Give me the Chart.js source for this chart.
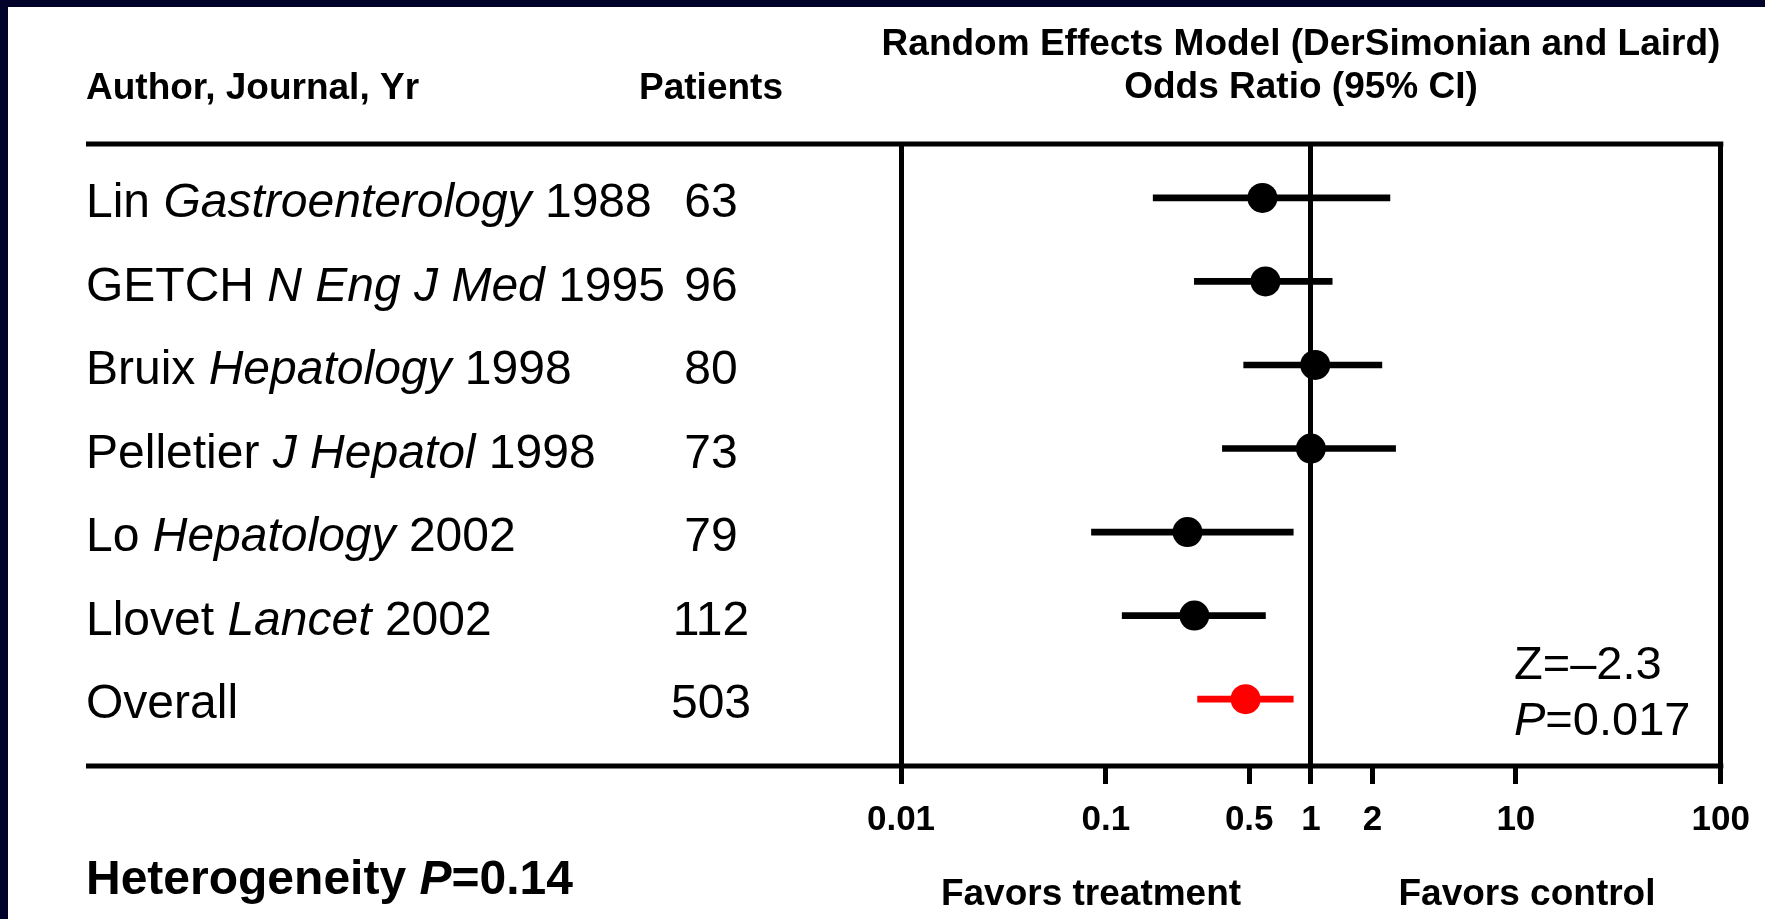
<!DOCTYPE html>
<html>
<head>
<meta charset="utf-8">
<script src="https://cdn.jsdelivr.net/npm/chart.js@4.4.1/dist/chart.umd.min.js"></script>
<style>
  html, body { margin: 0; padding: 0; background: #02032a; overflow: hidden; }
  canvas { display: block; }
</style>
</head>
<body>
<canvas id="forest" width="1765" height="919"></canvas>
<script>
// study label parts: [plain, italic, plain]
var studies = [
    ['Lin ', 'Gastroenterology', ' 1988'],
    ['GETCH ', 'N Eng J Med', ' 1995'],
    ['Bruix ', 'Hepatology', ' 1998'],
    ['Pelletier ', 'J Hepatol', ' 1998'],
    ['Lo ', 'Hepatology', ' 2002'],
    ['Llovet ', 'Lancet', ' 2002'],
    ['Overall', '', '']
];
var patients = ['63', '96', '80', '73', '79', '112', '503'];
var oddsRatio = [0.58, 0.60, 1.05, 1.00, 0.25, 0.27, 0.48];
var ciLow = [0.17, 0.27, 0.47, 0.37, 0.085, 0.12, 0.28];
var ciHigh = [2.43, 1.27, 2.22, 2.59, 0.82, 0.60, 0.82];
var tickValues = [0.01, 0.1, 0.5, 1, 2, 10, 100];
var tickLabels = ['0.01', '0.1', '0.5', '1', '2', '10', '100'];
var boxLines = [0.01, 1, 100];

var FONT = '"Liberation Sans", Arial, Helvetica, sans-serif';
var rowColor = function (i) { return i === studies.length - 1 ? '#ff0000' : '#000000'; };

// draws text runs, odd runs italic
function drawRuns(ctx, runs, x, y, size, weight) {
    ctx.textAlign = 'left';
    ctx.textBaseline = 'middle';
    runs.forEach(function (t, k) {
        if (!t) return;
        ctx.font = (k % 2 ? 'italic ' : '') + weight + ' ' + size + 'px ' + FONT;
        ctx.fillText(t, x, y);
        x += ctx.measureText(t).width;
    });
}

var forestDecor = {
    id: 'forestDecor',
    beforeDraw: function (chart) {
        var ctx = chart.ctx;
        ctx.save();
        ctx.fillStyle = '#02032a';
        ctx.fillRect(0, 0, chart.width, chart.height);
        ctx.fillStyle = '#ffffff';
        ctx.fillRect(8, 7, chart.width - 8, chart.height - 7);
        ctx.restore();
    },
    afterDraw: function (chart) {
        var ctx = chart.ctx;
        var area = chart.chartArea;
        var yScale = chart.scales.y;
        ctx.save();
        ctx.fillStyle = '#000';

        // header
        drawRuns(ctx, ['Author, Journal, Yr'], 86, 89, 37, 'bold');
        ctx.font = 'bold 37px ' + FONT;
        ctx.textAlign = 'center';
        ctx.fillText('Patients', 711, 89);
        ctx.fillText('Random Effects Model (DerSimonian and Laird)', 1301, 45);
        ctx.fillText('Odds Ratio (95% CI)', 1301, 88);

        // rules
        ctx.strokeStyle = '#000';
        ctx.lineWidth = 5;
        ctx.beginPath();
        ctx.moveTo(86, area.top);
        ctx.lineTo(area.right + 2.5, area.top);
        ctx.moveTo(86, area.bottom);
        ctx.lineTo(area.right + 2.5, area.bottom);
        ctx.stroke();

        // rows
        studies.forEach(function (s, i) {
            var y = yScale.getPixelForValue(i) + 6;
            drawRuns(ctx, s, 86, y, 48, 'normal');
            ctx.font = '48px ' + FONT;
            ctx.textAlign = 'center';
            ctx.fillText(patients[i], 711, y);
        });

        drawRuns(ctx, ['Z=\u20132.3'], 1514, 666, 47, 'normal');
        drawRuns(ctx, ['', 'P', '=0.017'], 1514, 722, 47, 'normal');
        drawRuns(ctx, ['Heterogeneity ', 'P', '=0.14'], 86, 881, 48, 'bold');

        ctx.font = 'bold 37px ' + FONT;
        ctx.textAlign = 'center';
        ctx.fillText('Favors treatment', 1091, 895);
        ctx.fillText('Favors control', 1527, 895);
        ctx.restore();
    }
};

new Chart(document.getElementById('forest'), {
    type: 'bar',
    data: {
        datasets: [{
            type: 'scatter',
            data: oddsRatio.map(function (v, i) { return { x: v, y: i }; }),
            pointRadius: 15,
            pointHoverRadius: 15,
            pointBorderWidth: 0,
            pointBackgroundColor: oddsRatio.map(function (v, i) { return rowColor(i); }),
            order: 0
        }, {
            type: 'bar',
            indexAxis: 'y',
            data: ciLow.map(function (v, i) { return { x: [v, ciHigh[i]], y: i }; }),
            backgroundColor: ciLow.map(function (v, i) { return rowColor(i); }),
            barThickness: 6,
            borderWidth: 0,
            borderSkipped: false,
            order: 1
        }]
    },
    options: {
        responsive: false,
        animation: false,
        events: [],
        layout: {
            padding: { left: 901, right: 37, top: 144, bottom: 63 }
        },
        plugins: {
            legend: { display: false },
            tooltip: { enabled: false }
        },
        scales: {
            x: {
                type: 'logarithmic',
                position: 'bottom',
                offset: false,
                min: 0.01,
                max: 100,
                afterBuildTicks: function (axis) {
                    axis.ticks = tickValues.map(function (v) { return { value: v }; });
                },
                ticks: {
                    autoSkip: false,
                    maxRotation: 0,
                    padding: 15,
                    color: '#000',
                    font: { family: FONT, size: 35, weight: 'bold' },
                    callback: function (value, index) { return tickLabels[index]; }
                },
                grid: {
                    offset: false,
                    drawOnChartArea: true,
                    drawTicks: true,
                    tickLength: 18,
                    lineWidth: 5,
                    tickColor: '#000',
                    color: function (c) {
                        return c.tick && boxLines.indexOf(c.tick.value) >= 0 ? '#000' : 'rgba(0,0,0,0)';
                    }
                },
                border: { display: false }
            },
            y: {
                type: 'linear',
                display: false,
                offset: false,
                reverse: true,
                min: -0.645,
                max: 6.8,
                grid: { offset: false }
            }
        }
    },
    plugins: [forestDecor]
});
</script>
</body>
</html>
